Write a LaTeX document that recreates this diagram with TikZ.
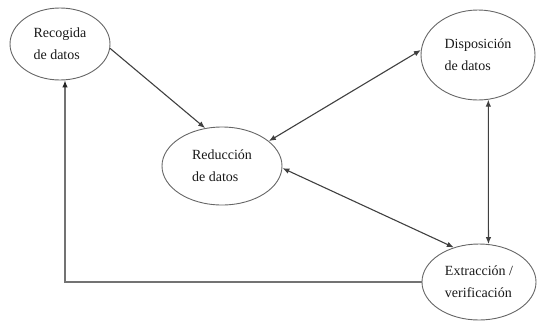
\documentclass[tikz,border=0pt]{standalone}
\usepackage{fontspec}
\setmainfont{Liberation Serif}
\usetikzlibrary{shapes.geometric,arrows.meta}
\begin{document}
\begin{tikzpicture}[x=1pt,y=-1pt,
        etapa/.style={ellipse,draw=black!60,line width=0.9pt,inner sep=0pt,align=left,
            text=black!90,font=\fontsize{14}{22}\selectfont},
        flecha/.style={draw=black!75,line width=1.1pt,-{Latex[length=7pt,width=5.5pt]}},
        doble/.style={flecha,{Latex[length=7pt,width=5.5pt]}-{Latex[length=7pt,width=5.5pt]}}]
        \useasboundingbox (0,0) rectangle (537,322);

        \node[etapa,minimum width=100pt,minimum height=72pt] (rec) at (60,44) {Recogida\\de datos};
        \node[etapa,minimum width=120pt,minimum height=78pt] (red) at (222,166) {Reducción\\de datos};
        \node[etapa,minimum width=114pt,minimum height=90pt] (dis) at (478,55) {Disposición\\de datos};
        \node[etapa,minimum width=114pt,minimum height=76pt] (ext) at (479,282) {Extracción /\\verificación};

        \draw[flecha] (rec.-5) -- (red.114);
        \draw[doble] (red.28) -- (dis.175);
        \draw[doble] (red.-2) -- (ext.126);
        \draw[doble] (dis.-77.5) -- (ext.76.3);
        \draw[draw=black!55,line width=1.1pt,-{Latex[length=7pt,width=5.5pt,color=black!85]}]
            (ext.west) -| ([xshift=5pt]rec.south);
    \end{tikzpicture}
\end{document}
